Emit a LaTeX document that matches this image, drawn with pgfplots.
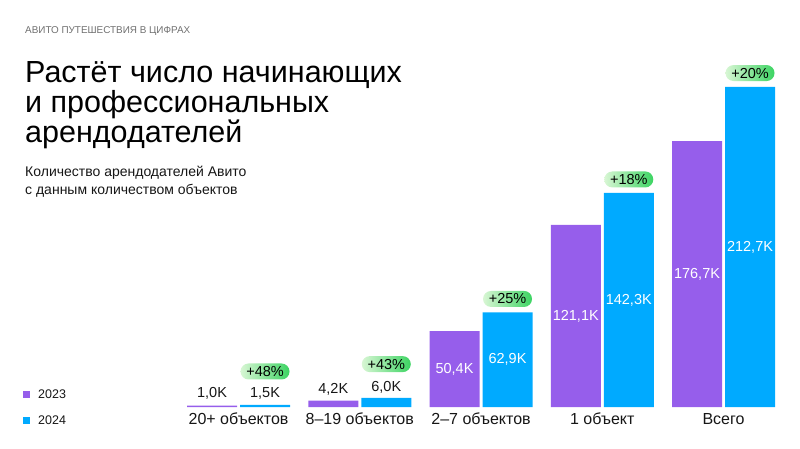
\documentclass[border=0pt]{standalone}
\usepackage{pgfplots}
\pgfplotsset{compat=1.18}
\usepackage{fontspec}
\setmainfont{Liberation Sans}

\definecolor{avpurple}{HTML}{965EEB}
\definecolor{avblue}{HTML}{00AAFF}
\definecolor{badgeL}{HTML}{D8F6D4}
\definecolor{badgeR}{HTML}{3CD462}
\definecolor{ink}{HTML}{161616}
\definecolor{hdr}{HTML}{707070}

% label positions (y) and texts
\pgfplotstableread{
x  y     lab
0  9.3   {1,0K}
1  11.6  {4,2K}
}\labA
\pgfplotstableread{
x  y     lab
0  9.3   {1,5K}
1  13.3  {6,0K}
}\labB
\pgfplotstableread{
x  y       lab
2  25.2    {50,4K}
3  60.55   {121,1K}
4  88.35   {176,7K}
}\inA
\pgfplotstableread{
x  y       lab
2  31.45   {62,9K}
3  71.15   {142,3K}
4  106.35  {212,7K}
}\inB
\pgfplotstableread{
x  y      pct
0  23.6   48
1  28.5   43
2  71.8   25
3  151.2  18
4  221.9  20
}\badges

\begin{document}
\begin{tikzpicture}[x=1pt,y=1pt]
\path[use as bounding box] (0,0) rectangle (800,-448);

\node[anchor=base west, inner sep=0, text=hdr, font=\fontsize{9.9}{11}\selectfont] at (25,-33) {АВИТО ПУТЕШЕСТВИЯ В ЦИФРАХ};
% multi-line nodes: base is the last line
\node[anchor=base west, inner sep=0, align=left, text=black, font=\fontsize{30.5}{27.5}\selectfont] at (25,-142)
  {Растёт число начинающих\\и профессиональных\\арендодателей};
\node[anchor=base west, inner sep=0, align=left, text=ink, font=\fontsize{14}{17.3}\selectfont] at (25,-194)
  {Количество арендодателей Авито\\с данным количеством объектов};

% legend
\fill[avpurple] (23,-390.5) rectangle (30,-397.5);
\node[anchor=west, inner sep=0, text=ink, font=\fontsize{12.5}{13}\selectfont] at (38,-394.5) {2023};
\fill[avblue] (23,-416.5) rectangle (30,-423.5);
\node[anchor=west, inner sep=0, text=ink, font=\fontsize{12.5}{13}\selectfont] at (38,-420) {2024};

\begin{axis}[
    at={(177.9pt,-407pt)}, anchor=south west,
    scale only axis, width=606.25pt, height=346.15pt,
    xmin=-0.5, xmax=4.5, ymin=0, ymax=230,
    clip=false,
    axis x line*=bottom, axis y line=none,
    x axis line style={draw=none},
    major tick length=0pt,
    xtick={0,1,2,3,4},
    xticklabels={20+ объектов, 8–19 объектов, 2–7 объектов, 1 объект, Всего},
    xticklabel style={anchor=base, yshift=-17pt, text=ink, font=\fontsize{16}{16}\selectfont},
    ytick=\empty,
  ]
  \addplot[ybar, bar width=50pt, bar shift=-26.5pt, fill=avpurple, draw=none]
    coordinates {(0,1.0)(1,4.2)(2,50.4)(3,121.1)(4,176.7)};
  \addplot[ybar, bar width=50pt, bar shift=26.5pt, fill=avblue, draw=none]
    coordinates {(0,1.5)(1,6.0)(2,62.9)(3,142.3)(4,212.7)};

  % labels above small bars
  \addplot[draw=none, nodes near coords, point meta=explicit symbolic,
    nodes near coords align=center,
    every node near coord/.append style={anchor=center, xshift=-26.5pt, text=ink, font=\fontsize{14.5}{15}\selectfont}]
    table[x=x, y=y, meta=lab] {\labA};
  \addplot[draw=none, nodes near coords, point meta=explicit symbolic,
    nodes near coords align=center,
    every node near coord/.append style={anchor=center, xshift=26.5pt, text=ink, font=\fontsize{14.5}{15}\selectfont}]
    table[x=x, y=y, meta=lab] {\labB};
  % labels inside bars
  \addplot[draw=none, nodes near coords, point meta=explicit symbolic,
    nodes near coords align=center,
    every node near coord/.append style={anchor=center, xshift=-26.5pt, text=white, font=\fontsize{14.5}{15}\selectfont}]
    table[x=x, y=y, meta=lab] {\inA};
  \addplot[draw=none, nodes near coords, point meta=explicit symbolic,
    nodes near coords align=center,
    every node near coord/.append style={anchor=center, xshift=26.5pt, text=white, font=\fontsize{14.5}{15}\selectfont}]
    table[x=x, y=y, meta=lab] {\inB};
  % growth badges
  \addplot[draw=none, nodes near coords={+\pgfplotspointmeta\%}, point meta=explicit symbolic,
    nodes near coords align=center,
    every node near coord/.append style={anchor=center, xshift=26.5pt, text=black,
      minimum width=49pt, minimum height=16pt, inner sep=0pt, rounded corners=8pt,
      left color=badgeL, right color=badgeR, font=\fontsize{14.5}{14.5}\selectfont}]
    table[x=x, y=y, meta=pct] {\badges};
\end{axis}
\end{tikzpicture}
\end{document}
